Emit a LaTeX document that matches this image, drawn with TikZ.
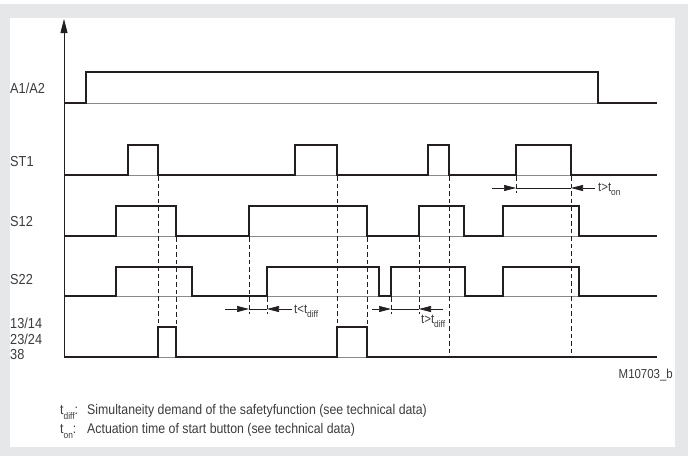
\documentclass[tikz,border=0pt]{standalone}
\usepackage{fontspec}
\setmainfont[FakeStretch=0.88]{Liberation Sans}
\usetikzlibrary{arrows.meta}
\definecolor{bggray}{HTML}{E6E7E8}
\definecolor{ink}{HTML}{231F20}
\definecolor{txt}{HTML}{3C3C3C}
\definecolor{basegray}{HTML}{8A8A8A}
\newcommand\sbs[1]{\raisebox{-0.32em}{\fontsize{9.5}{9.5}\selectfont #1}}
\begin{document}
\begin{tikzpicture}[x=1pt,y=-1pt,
  sig/.style={line width=2.1pt, draw=ink, line join=miter},
  baseln/.style={line width=0.8pt, draw=basegray},
  guide/.style={dash pattern=on 4.5pt off 3pt, line width=0.8pt, draw=ink},
  dimln/.style={line width=0.7pt, draw=ink},
  dimtip/.style={line width=0.7pt, draw=ink, -{Triangle[length=12pt,width=6pt]}},
  lbl/.style={anchor=west, inner sep=0pt, font=\fontsize{14.5}{16}\selectfont, text=txt},
  dlbl/.style={anchor=west, inner sep=0pt, font=\fontsize{13}{15}\selectfont, text=txt},
  foot/.style={anchor=west, inner sep=0pt, font=\fontsize{14}{15}\selectfont, text=txt}
]
\useasboundingbox (0,0) rectangle (688,456);
\fill[bggray] (0,4) rectangle (688,456);
\fill[white] (10,18) rectangle (675,447);

% axis
\coordinate (axbot) at (64,357);
\coordinate (axtop) at (64,19);
\draw[line width=0.8pt, draw=ink, -{Triangle[length=14pt,width=7pt]}] (axbot) -- (axtop);

% baselines
\foreach \y in {103,175,236,296,357} \draw[baseln] (64,\y) -- (657,\y);

% signals
\draw[sig] (64,103) -| (86,72) -| (598,103) -- (657,103);
\draw[sig] (64,175) -| (128,145) -| (158,175) -| (295,145) -| (337,175) -| (428,145) -| (449,175) -| (516,145) -| (571,175) -- (657,175);
\draw[sig] (64,236) -| (116,206) -| (176,236) -| (249,206) -| (367,236) -| (419,206) -| (464,236) -| (503,206) -| (579,236) -- (657,236);
\draw[sig] (64,296) -| (116,267) -| (192,296) -| (267,267) -| (379,296) -| (391,267) -| (465,296) -| (503,267) -| (579,296) -- (657,296);
\draw[sig] (64,357) -| (158,327) -| (176,357) -| (337,327) -| (367,357) -- (657,357);

% dashed guides
\draw[guide] (158,176) -- (158,327);
\draw[guide] (176,237) -- (176,327);
\draw[guide] (249,237) -- (249,314);
\draw[guide] (267,297) -- (267,314);
\draw[guide] (337,176) -- (337,327);
\draw[guide] (367,237) -- (367,327);
\draw[guide] (391,297) -- (391,314);
\draw[guide] (419,237) -- (419,314);
\draw[guide] (449,176) -- (449,356);
\draw[guide] (516,176) -- (516,193);
\draw[guide] (571,176) -- (571,356);

% dimension t<tdiff
\coordinate (d1a) at (225,309); \coordinate (d1b) at (249,309);
\coordinate (d1c) at (267,309); \coordinate (d1d) at (292,309);
\draw[dimln] (d1b) -- (d1c);
\draw[dimtip] (d1a) -- (d1b);
\draw[dimtip] (d1d) -- (d1c);
\node[dlbl] (l1) at (294,311) {t<t\sbs{diff}};

% dimension t>tdiff
\coordinate (d2a) at (372,309); \coordinate (d2b) at (391,309);
\coordinate (d2c) at (419,309); \coordinate (d2d) at (443,309);
\draw[dimln] (d2b) -- (d2c);
\draw[dimtip] (d2a) -- (d2b);
\draw[dimtip] (d2d) -- (d2c);
\node[dlbl] (l2) at (421,321) {t>t\sbs{diff}};

% dimension t>ton
\coordinate (d3a) at (492,188); \coordinate (d3b) at (516,188);
\coordinate (d3c) at (571,188); \coordinate (d3d) at (595,188);
\draw[dimln] (d3b) -- (d3c);
\draw[dimtip] (d3a) -- (d3b);
\draw[dimtip] (d3d) -- (d3c);
\node[dlbl] (l3) at (598,189) {t>t\sbs{on}};

% labels
\node[lbl] (a1) at (10,88) {A1/A2};
\node[lbl] (st1) at (10,162) {ST1};
\node[lbl] (s12) at (10,222) {S12};
\node[lbl] (s22) at (10,280) {S22};
\node[lbl] (o1) at (10,323) {13/14};
\node[lbl] (o2) at (10,339) {23/24};
\node[lbl] (o3) at (10,355) {38};

\node[anchor=east, inner sep=0pt, font=\fontsize{13}{14}\selectfont, text=txt] (code) at (673,375) {M10703\_b};

\node[foot] (f1) at (60,412) {\makebox[27pt][l]{t\sbs{diff}:}Simultaneity demand of the safetyfunction (see technical data)};
\node[foot] (f2) at (60,431) {\makebox[27pt][l]{t\sbs{on}:}Actuation time of start button (see technical data)};
\end{tikzpicture}
\end{document}
